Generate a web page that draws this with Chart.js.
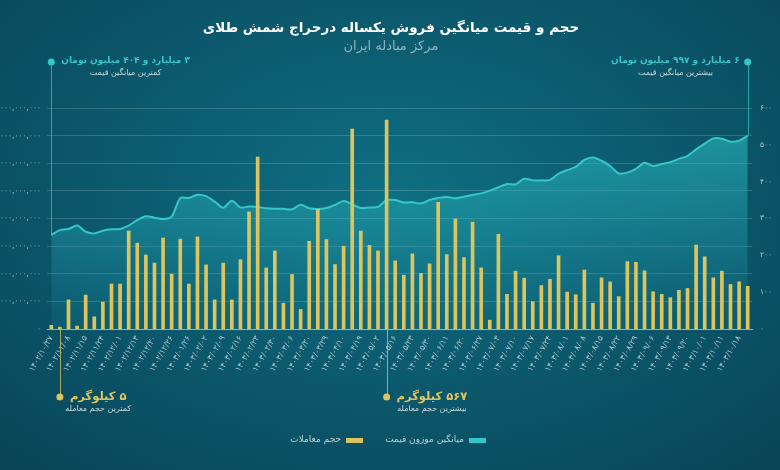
<!DOCTYPE html>
<html lang="fa">
<head>
<meta charset="utf-8">
<script src="https://cdn.jsdelivr.net/npm/chart.js@4"></script>
<style>
  html, body { margin: 0; padding: 0; }
  body {
    width: 780px; height: 470px; overflow: hidden;
    background: radial-gradient(ellipse 70% 75% at 50% 42%, #0f6f82 0%, #0c5c70 45%, #09465a 100%);
  }
  canvas { display: block; }
</style>
</head>
<body>
<canvas id="goldChart" width="780" height="470"></canvas>
<script>
// visible date ticks (every second trading session)
const dateLabels = [
  '۱۴۰۲/۱۰/۲۷', '۱۴۰۲/۱۱/۰۸', '۱۴۰۲/۱۱/۱۵', '۱۴۰۲/۱۱/۲۴', '۱۴۰۲/۱۲/۰۱', '۱۴۰۲/۱۲/۱۳',
  '۱۴۰۲/۱۲/۲۰', '۱۴۰۲/۱۲/۲۶', '۱۴۰۳/۰۱/۲۶', '۱۴۰۳/۰۲/۰۲', '۱۴۰۳/۰۲/۰۹', '۱۴۰۳/۰۲/۱۶',
  '۱۴۰۳/۰۲/۲۳', '۱۴۰۳/۰۲/۳۰', '۱۴۰۳/۰۳/۰۶', '۱۴۰۳/۰۳/۲۰', '۱۴۰۳/۰۳/۲۹', '۱۴۰۳/۰۴/۱۰',
  '۱۴۰۳/۰۴/۱۹', '۱۴۰۳/۰۵/۰۲', '۱۴۰۳/۰۵/۱۶', '۱۴۰۳/۰۵/۲۳', '۱۴۰۳/۰۵/۳۰', '۱۴۰۳/۰۶/۱۱',
  '۱۴۰۳/۰۶/۲۰', '۱۴۰۳/۰۶/۲۷', '۱۴۰۳/۰۷/۰۳', '۱۴۰۳/۰۷/۱۰', '۱۴۰۳/۰۷/۱۷', '۱۴۰۳/۰۷/۲۴',
  '۱۴۰۳/۰۸/۰۱', '۱۴۰۳/۰۸/۰۸', '۱۴۰۳/۰۸/۱۵', '۱۴۰۳/۰۸/۲۲', '۱۴۰۳/۰۸/۲۹', '۱۴۰۳/۰۹/۰۶',
  '۱۴۰۳/۰۹/۱۳', '۱۴۰۳/۰۹/۲۰', '۱۴۰۳/۱۰/۰۱', '۱۴۰۳/۱۰/۱۱', '۱۴۰۳/۱۰/۱۸'
];

// traded volume per session, kg
const volumes = [
  10, 5, 79, 8, 92, 33, 73, 122, 122, 266, 233, 201, 179, 247, 149, 244, 122, 250, 174, 79,
  179, 79, 188, 318, 467, 166, 212, 70, 148, 53, 238, 325, 243, 175, 225, 543, 266, 227, 212, 567,
  185, 146, 204, 151, 177, 344, 202, 299, 194, 290, 166, 24, 257, 94, 157, 138, 74, 118, 135, 199,
  100, 93, 160, 70, 139, 128, 88, 183, 181, 158, 101, 94, 85, 105, 110, 228, 196, 139, 157, 121, 128, 116
];

// weighted average price, million toman
const prices = [
  3404, 3580, 3620, 3750, 3520, 3460, 3560, 3610, 3620, 3740, 3940, 4080, 4030, 3980, 4070, 4740, 4740, 4860, 4810, 4610,
  4390, 4640, 4400, 4430, 4420, 4370, 4350, 4350, 4330, 4500, 4370, 4340, 4380, 4490, 4630, 4510, 4380, 4400, 4420, 4660,
  4670, 4580, 4590, 4540, 4670, 4740, 4780, 4730, 4790, 4850, 4910, 5010, 5130, 5250, 5240, 5440, 5380, 5380, 5400, 5620,
  5750, 5870, 6120, 6210, 6090, 5900, 5630, 5660, 5800, 6020, 5900, 5970, 6040, 6160, 6270, 6500, 6710, 6900, 6890, 6780, 6820, 6997
];

const priceTicks = ['۰', '۱,۰۰۰,۰۰۰,۰۰۰', '۲,۰۰۰,۰۰۰,۰۰۰', '۳,۰۰۰,۰۰۰,۰۰۰', '۴,۰۰۰,۰۰۰,۰۰۰',
  '۵,۰۰۰,۰۰۰,۰۰۰', '۶,۰۰۰,۰۰۰,۰۰۰', '۷,۰۰۰,۰۰۰,۰۰۰', '۸,۰۰۰,۰۰۰,۰۰۰'];
const volumeTicks = ['۰', '۱۰۰', '۲۰۰', '۳۰۰', '۴۰۰', '۵۰۰', '۶۰۰'];

const categories = volumes.map((v, i) => (i % 2 === 0 ? dateLabels[i / 2] : ''));

const FONT = 'DejaVu Sans, sans-serif';
const TEAL = '#35c7c9';
const GOLD = '#dcc45e';

// titles, min/max callouts and legend, all placed from the chart scales
const calloutPlugin = {
  id: 'callouts',
  afterDraw(chart) {
    const { ctx, scales } = chart;
    const x = scales.x, yP = scales.yPrice, yV = scales.yVol;

    const iMinP = prices.indexOf(Math.min(...prices));
    const iMaxP = prices.indexOf(Math.max(...prices));
    const iMinV = volumes.indexOf(Math.min(...volumes));
    const iMaxV = volumes.indexOf(Math.max(...volumes));

    ctx.save();
    ctx.direction = 'rtl';
    ctx.textBaseline = 'middle';

    // title
    ctx.textAlign = 'center';
    ctx.fillStyle = '#ffffff';
    ctx.font = 'bold 13.5px ' + FONT;
    ctx.fillText('حجم و قیمت میانگین فروش یکساله درحراج شمش طلای', 391, 28);
    ctx.fillStyle = '#8fb1b9';
    ctx.font = '13px ' + FONT;
    ctx.fillText('مرکز مبادله ایران', 391, 47);

    const topY = 62;
    const dot = (px, py, color) => {
      ctx.beginPath();
      ctx.arc(px, py, 3.5, 0, Math.PI * 2);
      ctx.fillStyle = color;
      ctx.fill();
    };
    const vline = (px, y1, y2, color) => {
      ctx.beginPath();
      ctx.moveTo(Math.round(px) + 0.5, y1);
      ctx.lineTo(Math.round(px) + 0.5, y2);
      ctx.strokeStyle = color;
      ctx.lineWidth = 1;
      ctx.stroke();
    };
    const callout = (px, py, main, sub, color, side, mainSize) => {
      ctx.font = 'bold ' + mainSize + 'px ' + FONT;
      const w = ctx.measureText(main).width;
      const left = side === 'right' ? px + 10 : px - 8 - w;
      ctx.textAlign = 'left';
      ctx.fillStyle = color;
      ctx.fillText(main, left, py);
      ctx.font = '8px ' + FONT;
      ctx.textAlign = 'center';
      ctx.fillStyle = 'rgba(225,235,238,0.85)';
      ctx.fillText(sub, left + w / 2, py + 12);
    };

    // price extremes (top)
    const xMinP = x.getPixelForValue(iMinP), xMaxP = x.getPixelForValue(iMaxP);
    vline(xMinP, topY, yP.getPixelForValue(prices[iMinP]), 'rgba(53,199,201,0.7)');
    vline(xMaxP, topY, yP.getPixelForValue(prices[iMaxP]), 'rgba(53,199,201,0.7)');
    dot(xMinP, topY, TEAL);
    dot(xMaxP, topY, TEAL);
    callout(xMinP, topY - 1, '۳ میلیارد و ۴۰۴ میلیون تومان', 'کمترین میانگین قیمت', TEAL, 'right', 9);
    callout(xMaxP, topY - 1, '۶ میلیارد و ۹۹۷ میلیون تومان', 'بیشترین میانگین قیمت', TEAL, 'left', 9);

    // volume extremes (bottom)
    const botY = 397;
    const xMinV = x.getPixelForValue(iMinV), xMaxV = x.getPixelForValue(iMaxV);
    vline(xMinV, yV.getPixelForValue(0) + 1, botY, 'rgba(220,196,94,0.75)');
    vline(xMaxV, yV.getPixelForValue(0) + 1, botY, 'rgba(220,196,94,0.75)');
    dot(xMinV, botY, GOLD);
    dot(xMaxV, botY, GOLD);
    callout(xMinV, botY, '۵ کیلوگرم', 'کمترین حجم معامله', GOLD, 'right', 11.5);
    callout(xMaxV, botY, '۵۶۷ کیلوگرم', 'بیشترین حجم معامله', GOLD, 'right', 11.5);

    // legend (rtl: swatch on the right of its text)
    ctx.font = '9px ' + FONT;
    ctx.textAlign = 'right';
    const items = [
      { label: chart.data.datasets[1].label, color: TEAL, right: 486 },
      { label: chart.data.datasets[0].label, color: GOLD, right: 363 }
    ];
    items.forEach(it => {
      ctx.fillStyle = it.color;
      ctx.fillRect(it.right - 17, 438, 17, 5);
      ctx.fillStyle = 'rgba(215,228,232,0.85)';
      ctx.fillText(it.label, it.right - 22, 440);
    });

    ctx.restore();
  }
};

const tickFont = { family: FONT, size: 8 };
const tickColor = 'rgba(205,222,228,0.85)';

new Chart(document.getElementById('goldChart'), {
  data: {
    labels: categories,
    datasets: [
      {
        type: 'bar',
        label: 'حجم معاملات',
        data: volumes,
        yAxisID: 'yVol',
        backgroundColor: GOLD,
        barThickness: 3,
        order: 0
      },
      {
        type: 'line',
        label: 'میانگین موزون قیمت',
        data: prices,
        yAxisID: 'yPrice',
        borderColor: TEAL,
        borderWidth: 2,
        pointRadius: 0,
        tension: 0.3,
        fill: 'origin',
        backgroundColor: (c) => {
          const area = c.chart.chartArea;
          if (!area) return 'rgba(45,190,195,0.3)';
          const g = c.chart.ctx.createLinearGradient(0, area.top, 0, area.bottom);
          g.addColorStop(0, 'rgba(50,205,205,0.6)');
          g.addColorStop(0.5, 'rgba(40,180,190,0.38)');
          g.addColorStop(1, 'rgba(30,150,170,0.12)');
          return g;
        },
        order: 1
      }
    ]
  },
  options: {
    responsive: false,
    animation: false,
    layout: { padding: { top: 108, left: 0, right: 0, bottom: 0 } },
    scales: {
      x: {
        offset: true,
        grid: { display: false, drawTicks: false },
        border: { color: 'rgba(170,215,225,0.7)' },
        ticks: {
          autoSkip: false,
          minRotation: 60,
          maxRotation: 60,
          padding: 5,
          font: tickFont,
          color: tickColor
        },
        afterFit: (s) => { s.height = 141; }
      },
      yPrice: {
        position: 'left',
        min: 0,
        max: 8000,
        grid: { color: 'rgba(255,255,255,0.16)', drawTicks: false },
        border: { display: false },
        ticks: {
          stepSize: 1000,
          padding: 6,
          font: { family: FONT, size: 7.5 },
          color: tickColor,
          callback: (v, i) => priceTicks[i]
        },
        afterFit: (s) => { s.width = 47; }
      },
      yVol: {
        position: 'right',
        min: 0,
        max: 600,
        grid: { display: false, drawTicks: false },
        border: { display: false },
        ticks: {
          stepSize: 100,
          padding: 8,
          font: { family: FONT, size: 7.5 },
          color: tickColor,
          callback: (v, i) => volumeTicks[i]
        },
        afterFit: (s) => { s.width = 28; }
      }
    },
    plugins: { legend: { display: false }, tooltip: { enabled: false } }
  },
  plugins: [calloutPlugin]
});
</script>
</body>
</html>
